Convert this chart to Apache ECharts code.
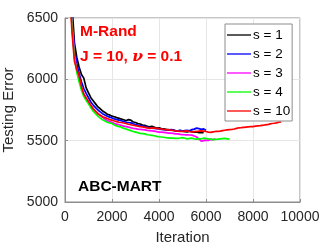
<!DOCTYPE html>
<html><head><meta charset="utf-8">
<script src="https://cdn.jsdelivr.net/npm/echarts@6/dist/echarts.min.js"></script>
<style>html,body{margin:0;padding:0;background:#fff}#c{width:332px;height:249px}</style>
</head><body><div id="c"></div>
<script>
var iterations = [200,300,400,500,600,700,800,900,1000,1100,1200,1300,1400,1500,1600,1700,1800,1900,2000,2100,2200,2300,2400,2500,2600,2700,2800,2900,3000,3100,3200,3300,3400,3500,3600,3700,3800,3900,4000,4100,4200,4300,4400,4500,4600,4700,4800,4900,5000,5100,5200,5300,5400,5500,5600,5700,5800,5900,6000,6100,6200,6300,6400,6500,6600,6700,6800,6900,7000,7100,7200,7300,7400,7500,7600,7700,7800,7900,8000,8100,8200,8300,8400,8500,8600,8700,8800,8900,9000,9100,9200];
var s1 = [7000,6600,6300,6180,6100,6040,6010,5930,5890,5850,5825,5800,5775,5760,5742,5730,5715,5710,5700,5695,5688,5682,5676,5670,5662,5672,5668,5652,5648,5640,5636,5628,5625,5616,5612,5618,5610,5602,5604,5598,5596,5592,5590,5586,5584,5580,5578,5582,5578,5574,5572,5578,5574,5570,5572,5566,5568,5565];
var s2 = [6900,6500,6250,6130,6050,5980,5925,5885,5850,5815,5790,5770,5750,5735,5720,5710,5700,5692,5685,5678,5672,5668,5662,5656,5650,5648,5645,5638,5632,5628,5622,5618,5615,5608,5605,5602,5600,5598,5595,5592,5590,5588,5585,5590,5588,5582,5580,5584,5578,5582,5585,5580,5590,5594,5602,5598,5592,5596,5585];
var s3 = [6850,6450,6200,6080,6000,5930,5880,5840,5810,5782,5760,5738,5720,5704,5690,5676,5665,5656,5650,5640,5635,5630,5625,5618,5615,5610,5605,5600,5598,5594,5592,5590,5588,5584,5582,5580,5578,5574,5570,5570,5568,5565,5562,5562,5560,5556,5555,5552,5550,5548,5548,5546,5545,5538,5530,5515,5495,5500,5505,5502,5510,5508,5515];
var s4 = [6800,6420,6180,6060,5980,5910,5860,5828,5800,5768,5740,5720,5700,5684,5670,5660,5650,5645,5640,5628,5620,5615,5610,5600,5595,5588,5582,5575,5570,5565,5560,5558,5555,5548,5546,5543,5540,5535,5532,5530,5528,5524,5522,5520,5520,5518,5518,5522,5525,5520,5515,5518,5520,5515,5512,5514,5515,5520,5518,5514,5512,5508,5510,5512,5515,5517,5518,5515,5512];
var s10 = [6700,6380,6150,6080,6030,5940,5880,5850,5820,5790,5760,5740,5720,5708,5695,5688,5680,5672,5668,5660,5655,5650,5648,5644,5640,5634,5630,5626,5622,5618,5615,5612,5608,5604,5600,5604,5602,5600,5598,5595,5592,5590,5588,5586,5585,5580,5578,5576,5575,5578,5580,5575,5572,5574,5575,5578,5580,5578,5575,5570,5568,5572,5575,5576,5578,5582,5585,5588,5590,5592,5595,5600,5605,5606,5608,5610,5612,5614,5615,5618,5620,5622,5625,5628,5630,5635,5640,5642,5645,5650,5652];
var seriesNames = ['s = 1','s = 2','s = 3','s = 4','s = 10'];
var seriesColors = ['#000000','#0000ff','#ff00ff','#00ff00','#ff0000'];
var seriesValues = [s1,s2,s3,s4,s10];
var xTicks = [0,2000,4000,6000,8000,10000];
var yTicks = [5000,5500,6000,6500];

var font = 'Liberation Sans, Arial, sans-serif';
var chart = echarts.init(document.getElementById('c'), null, {renderer:'canvas'});
var series = seriesValues.map(function(vals,i){
  return {
    name: seriesNames[i], type:'line', showSymbol:false, symbol:'none',
    data: vals.map(function(v,j){return [iterations[j], v];}),
    lineStyle:{color:seriesColors[i], width:1.7}, itemStyle:{color:seriesColors[i]},
    clip:true, animation:false
  };
});
chart.setOption({
  animation:false,
  grid:{left:65, right:32, top:18, bottom:47, containLabel:false, outerBoundsMode:'none', show:true, borderColor:'#8c8c8c', borderWidth:1, backgroundColor:'transparent'},
  xAxis:{type:'value', min:0, max:10000, interval:2000,
    name:'Iteration', nameLocation:'middle', nameGap:28,
    nameTextStyle:{fontFamily:font, fontSize:15, color:'#262626'},
    axisLine:{lineStyle:{color:'#8c8c8c'}},
    axisTick:{inside:true, length:3, lineStyle:{color:'#8c8c8c'}},
    axisLabel:{fontFamily:font, fontSize:14, color:'#262626', margin:8, formatter:function(v){return String(v);}},
    splitLine:{show:true, lineStyle:{color:'#e6e6e6'}}},
  yAxis:{type:'value', min:5000, max:6500, interval:500,
    name:'Testing Error', nameLocation:'middle', nameGap:41,
    nameTextStyle:{fontFamily:font, fontSize:15, color:'#262626'},
    axisLine:{show:true, lineStyle:{color:'#8c8c8c'}},
    axisTick:{show:true, inside:true, length:3, lineStyle:{color:'#8c8c8c'}},
    axisLabel:{fontFamily:font, fontSize:14, color:'#262626', margin:7, formatter:function(v){return String(v);}},
    splitLine:{show:true, lineStyle:{color:'#e6e6e6'}}},
  legend:{orient:'vertical', left:225, top:24, padding:[4,2,3,2], itemGap:5, itemWidth:24, itemHeight:14,
    backgroundColor:'#fff', borderColor:'#8c8c8c', borderWidth:1, borderRadius:0,
    textStyle:{fontFamily:font, fontSize:13.5, color:'#000', padding:[0,0,0,-3]},
    data: seriesNames.map(function(n){return {name:n, icon:'path://M0,0 L24,0 L24,1.3 L0,1.3 Z'};})},
  graphic:[
    {type:'text', left:80, top:24, z:100, style:{text:'M-Rand', font:'bold 15.5px '+font, fill:'#ff0000'}},
    {type:'text', left:80, top:49, z:100, style:{text:'{a|J = 10, }{b|ν}{a| = 0.1}', rich:{a:{font:'bold 15.5px '+font, color:'#ff0000'}, b:{font:'italic bold 15.5px DejaVu Serif, serif', color:'#ff0000'}}, fill:'#ff0000'}},
    {type:'text', left:78, top:179, z:100, style:{text:'ABC-MART', font:'bold 15.5px '+font, fill:'#000'}}
  ],
  series: series
});
</script></body></html>
